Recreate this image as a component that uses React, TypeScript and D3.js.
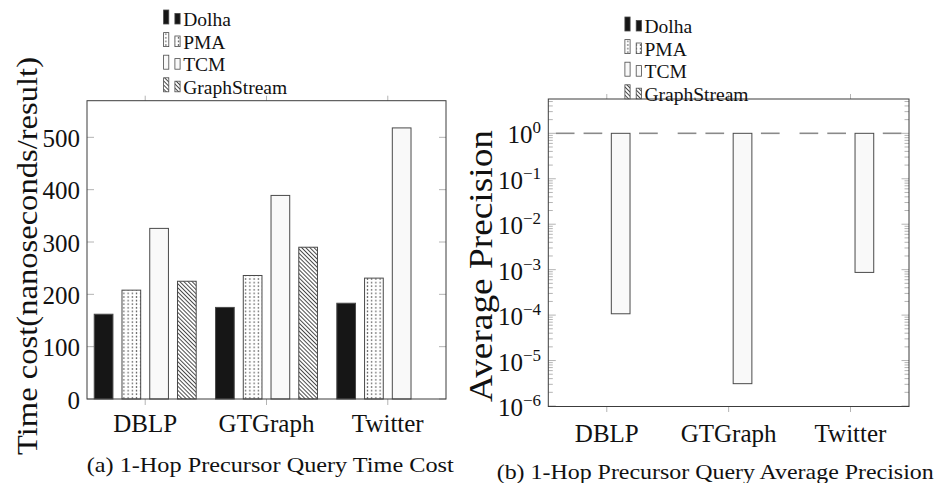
import React from "react";
import * as d3 from "d3";

// ---------- data ----------
const categories = ["DBLP", "GTGraph", "Twitter"];
const seriesNames = ["Dolha", "PMA", "TCM", "GraphStream"];

// (a) time cost, nanoseconds/result
const timeDolha = [162, 175, 183];
const timePMA = [208, 236, 231];
const timeTCM = [326, 389, 518];
const timeGraphStream: (number | null)[] = [225, 290, null];
const timeTicks = [0, 100, 200, 300, 400, 500];

// (b) average precision
const precDolha = [1, 1, 1];
const precPMA = [1, 1, 1];
const precTCM = [1.07e-4, 3.1e-6, 8.7e-4];
const precGraphStream = [1, 1, 1];
const precExponents = [0, -1, -2, -3, -4, -5, -6];

const captionA = "(a) 1-Hop Precursor Query Time Cost";
const captionB = "(b) 1-Hop Precursor Query Average Precision";
const yLabelA = "Time cost(nanoseconds/result)";
const yLabelB = "Average Precision";

// ---------- style ----------
const FONT = "'Liberation Serif', 'Times New Roman', serif";
const FRAME = "#3c3c3c";
const TICK = "#b4b4b4";
const BAR_STROKE = "#4a4a4a";
const fills = ["#161616", "url(#dotsPat)", "#f9f9f9", "url(#nwPat)"];
const barW = 18.7;
const barStep = 27.75;

function Bars({ series, x, y, base, degenerateColor }: any) {
  const out: any[] = [];
  series.forEach((vals: (number | null)[], si: number) => {
    vals.forEach((v, ci) => {
      if (v === null || v === undefined) return;
      const cx = x(ci) + (si - 1.5) * barStep;
      const x0 = cx - barW / 2;
      const yv = y(v);
      const yb = y(base);
      const top = Math.min(yv, yb);
      const h = Math.abs(yb - yv);
      if (h < 0.5) {
        out.push(
          <line key={`${si}-${ci}`} x1={x0} x2={x0 + barW} y1={yb} y2={yb}
            stroke={degenerateColor} strokeWidth={1.6} />
        );
      } else {
        out.push(
          <rect key={`${si}-${ci}`} x={x0} y={top} width={barW} height={h}
            fill={fills[si]} stroke={BAR_STROKE} strokeWidth={1} />
        );
      }
    });
  });
  return <g>{out}</g>;
}

function Legend({ x, y0, step }: { x: number; y0: number; step: number }) {
  return (
    <g>
      {seriesNames.map((n, i) => {
        const base = y0 + i * step;
        const bottom = base - 2;
        return (
          <g key={n}>
            <rect x={x - 2.6} y={bottom - 14} width={5.2} height={14}
              fill={fills[i]} stroke={BAR_STROKE} strokeWidth={0.8} />
            <rect x={x + 11.3 - 2.6} y={bottom - 10.6} width={5.2} height={10.6}
              fill={fills[i]} stroke={BAR_STROKE} strokeWidth={0.8} />
            <text x={x + 17} y={base} fontFamily={FONT} fontSize={19.5} fill="#111">{n}</text>
          </g>
        );
      })}
    </g>
  );
}

export default function App() {
  // ---- chart (a) ----
  const xA = d3.scaleLinear().domain([-0.48, 2.48]).range([87, 446]);
  const yA = d3.scaleLinear().domain([0, 570]).range([399, 100.7]);
  // ---- chart (b) ----
  const xB = d3.scaleLinear().domain([-0.48, 2.48]).range([548.3, 909]);
  const yB = d3.scaleLog().domain([1e-6, Math.pow(10, 0.755)]).range([406, 99]);

  const [ax0, ax1] = xA.range();
  const [ay0, ay1] = yA.range();
  const [bx0, bx1] = xB.range();
  const [by0, by1] = yB.range();

  const minorB: number[] = [];
  for (let e = -6; e <= 0; e++) {
    for (let m = 1; m <= 9; m++) {
      const v = m * Math.pow(10, e);
      if (v <= yB.domain()[1] && v >= 1e-6) minorB.push(v);
    }
  }

  return (
    <svg width={936} height={483} viewBox="0 0 936 483"
      style={{ position: "absolute", left: 0, top: 0, background: "#fff" }}>
      <defs>
        <pattern id="dotsPat" width={4.2} height={3.6} patternUnits="userSpaceOnUse">
          <rect width={4.2} height={3.6} fill="#fff" />
          <rect x={1.5} y={1.2} width={1.2} height={1.2} fill="#222" />
        </pattern>
        <pattern id="nwPat" width={2.9} height={2.9} patternUnits="userSpaceOnUse"
          patternTransform="rotate(-45)">
          <rect width={2.9} height={2.9} fill="#fff" />
          <line x1={0.5} y1={0} x2={0.5} y2={2.9} stroke="#2a2a2a" strokeWidth={0.85} />
        </pattern>
      </defs>

      {/* ================= chart (a) ================= */}
      <g>
        {timeTicks.map((t) => (
          <g key={t}>
            <line x1={ax0} x2={ax0 + 7} y1={yA(t)} y2={yA(t)} stroke={TICK} />
            <line x1={ax1 - 7} x2={ax1} y1={yA(t)} y2={yA(t)} stroke={TICK} />
            <text x={80} y={yA(t) + 9.5} textAnchor="end" fontFamily={FONT} fontSize={25} fill="#111">{t}</text>
          </g>
        ))}
        {categories.map((c, i) => (
          <g key={c}>
            <line x1={xA(i)} x2={xA(i)} y1={ay0} y2={ay0 + 6} stroke={TICK} />
            <line x1={xA(i)} x2={xA(i)} y1={ay1} y2={ay1 - 5} stroke={TICK} />
            <text x={xA(i)} y={432} textAnchor="middle" fontFamily={FONT} fontSize={25} fill="#111">{c}</text>
          </g>
        ))}
        <Bars series={[timeDolha, timePMA, timeTCM, timeGraphStream]} x={xA} y={yA} base={0} degenerateColor="#888" />
        <rect x={ax0} y={ay1} width={ax1 - ax0} height={ay0 - ay1} fill="none" stroke={FRAME} strokeWidth={1} />
        <text transform={`translate(37,256) rotate(-90)`} textAnchor="middle" fontFamily={FONT}
          fontSize={29} fill="#111" textLength={398} lengthAdjust="spacingAndGlyphs">{yLabelA}</text>
        <Legend x={166.2} y0={26} step={22.6} />
        <text x={86.7} y={472} fontFamily={FONT} fontSize={21} fill="#111"
          textLength={367} lengthAdjust="spacingAndGlyphs">{captionA}</text>
      </g>

      {/* ================= chart (b) ================= */}
      <g>
        {minorB.map((v, i) => {
          const major = Math.abs(Math.log10(v) - Math.round(Math.log10(v))) < 1e-9;
          const len = major ? 7.5 : 4.5;
          return (
            <g key={i}>
              <line x1={bx0} x2={bx0 + len} y1={yB(v)} y2={yB(v)} stroke={TICK} />
              <line x1={bx1 - len} x2={bx1} y1={yB(v)} y2={yB(v)} stroke={TICK} />
            </g>
          );
        })}
        {precExponents.map((e) => (
          <text key={e} x={541} y={yB(Math.pow(10, e)) + 10} textAnchor="end" fontFamily={FONT} fontSize={25} fill="#111">
            <tspan>10</tspan>
            <tspan dy={-10} fontSize={17}>{e < 0 ? `\u2212${-e}` : `${e}`}</tspan>
          </text>
        ))}
        {categories.map((c, i) => (
          <g key={c}>
            <line x1={xB(i)} x2={xB(i)} y1={by0} y2={by0 + 6} stroke={TICK} />
            <line x1={xB(i)} x2={xB(i)} y1={by1} y2={by1 - 5} stroke={TICK} />
            <text x={xB(i)} y={442} textAnchor="middle" fontFamily={FONT} fontSize={25} fill="#111">{c}</text>
          </g>
        ))}
        <Bars series={[precDolha, precPMA, precTCM, precGraphStream]} x={xB} y={yB} base={1} degenerateColor="#8a8a8a" />
        <rect x={bx0} y={by1} width={bx1 - bx0} height={by0 - by1 + 0.5} fill="none" stroke={FRAME} strokeWidth={1} />
        <text transform={`translate(492,266) rotate(-90)`} textAnchor="middle" fontFamily={FONT}
          fontSize={34} fill="#111" textLength={272} lengthAdjust="spacingAndGlyphs">{yLabelB}</text>
        <Legend x={627.5} y0={33} step={22.6} />
        <text x={496.7} y={479} fontFamily={FONT} fontSize={21} fill="#111"
          textLength={437} lengthAdjust="spacingAndGlyphs">{captionB}</text>
      </g>
    </svg>
  );
}
